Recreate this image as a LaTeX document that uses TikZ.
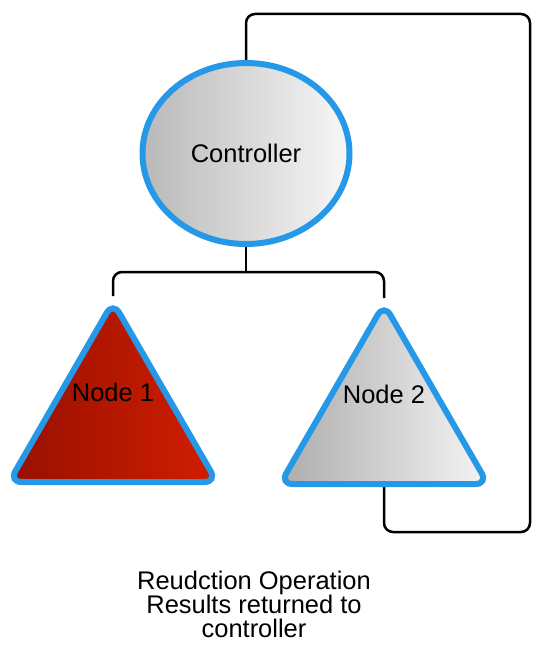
\documentclass[tikz,border=0pt]{standalone}
\usepackage{fontspec}
\setmainfont{Liberation Sans}
\usetikzlibrary{shapes.geometric,backgrounds}

\definecolor{rimblue}{RGB}{38,152,232}
\definecolor{darkred}{RGB}{150,16,0}
\definecolor{brightred}{RGB}{210,30,0}

\begin{document}
\begin{tikzpicture}[
    font=\fontsize{14.5}{13.7}\selectfont,
    rim/.style={draw=rimblue, line width=0.12cm},
    wire/.style={draw=black, line width=0.05cm, rounded corners=0.18cm},
    tri/.style={rim, regular polygon, regular polygon sides=3, minimum size=4.8cm,
        inner sep=0pt, rounded corners=0.25cm}
    ]
    \useasboundingbox (0,0) rectangle (10.68,-13.02);

    \coordinate (split) at (4.92,-5.44);
    \coordinate (loopNE) at (10.60,-0.28);
    \coordinate (loopSE) at (10.60,-10.64);

    \node[rim, ellipse, minimum width=4.14cm, minimum height=3.62cm,
        left color=gray!55, right color=gray!6] (ctrl) at (4.92,-3.07) {Controller};
    \node[tri, left color=darkred, right color=brightred] (n1) at (2.26,-8.44) {};
    \node[tri, shading angle=60, left color=gray!65, right color=gray!8] (n2) at (7.68,-8.48) {};

    \node (n1lbl) at ([yshift=0.6cm]n1.center) {Node 1};
    \node (n2lbl) at ([yshift=0.6cm]n2.center) {Node 2};

    \begin{scope}[on background layer]
        \draw[wire] (n1.corner 1) |- (split) -| (n2.corner 1);
        \draw[wire] (ctrl.south) -- (split);
        \draw[wire] (ctrl.north) |- (loopNE) -- (loopSE) -| (n2.south);
    \end{scope}

    \node[align=center] (note) at (5.08,-12.08) {Reudction Operation\\Results returned to\\controller};
\end{tikzpicture}
\end{document}
